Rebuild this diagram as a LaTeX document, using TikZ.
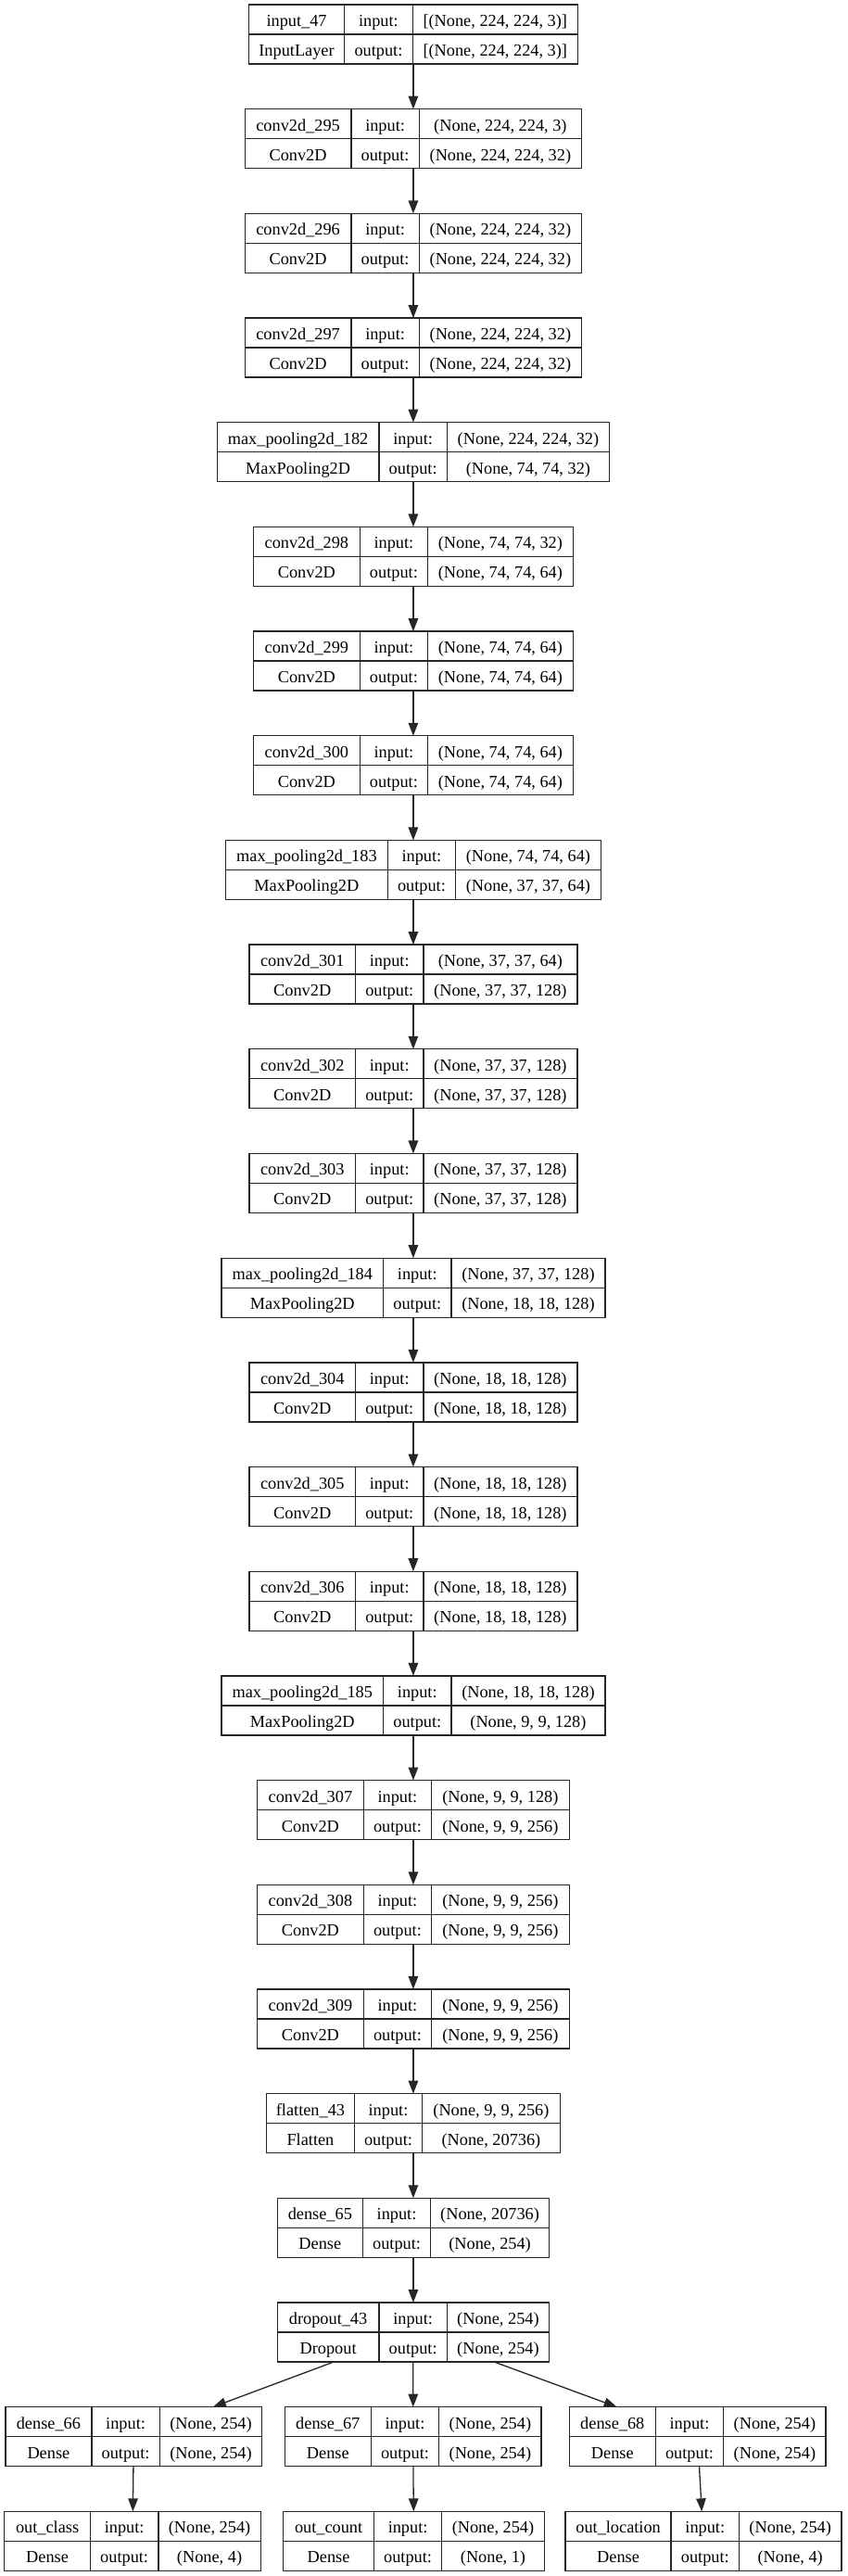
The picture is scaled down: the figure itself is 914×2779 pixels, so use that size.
\documentclass[tikz,border=0pt]{standalone}
\usepackage{fontspec}
\setmainfont{Liberation Serif}
\usetikzlibrary{arrows.meta}
\newcommand\recfont{\fontsize{18.3}{22}\selectfont}
\colorlet{edgecol}{black!85}
\tikzset{
  rec/.style={draw=edgecol, rectangle, line width=1.3pt, minimum height=64pt, inner sep=0pt, outer sep=0pt},
  recline/.style={draw=edgecol, line width=1.3pt},
  txt/.style={anchor=base, font=\recfont, inner sep=0pt, outer sep=0pt},
  arr/.style={draw=edgecol, line width=1.3pt, -{Triangle[length=14pt,width=10.5pt]}}
}
% #1 name, #2 x centre, #3 row, #4 width col1, #5 width col3, #6 layer name, #7 class, #8 input shape, #9 output shape
\newcommand\record[9]{%
  \pgfmathsetmacro\ytop{-(5+112.68*#3)}%
  \pgfmathsetmacro\ycen{\ytop-32}%
  \pgfmathsetmacro\wtot{#4+73.4+#5}%
  \node[rec, minimum width=\wtot pt] (#1) at (#2,\ycen) {};
  \draw[recline] (#1.west) -- (#1.east);
  \draw[recline] ([xshift=#4]#1.north west) -- ([xshift=#4]#1.south west);
  \draw[recline] ([xshift=#4+73.4]#1.north west) -- ([xshift=#4+73.4]#1.south west);
  \node[txt] at ([xshift=0.5*#4, yshift=-23.5]#1.north west) {#6};
  \node[txt] at ([xshift=0.5*#4, yshift=-55.5]#1.north west) {#7};
  \node[txt] at ([xshift=#4+36.7, yshift=-23.5]#1.north west) {input:};
  \node[txt] at ([xshift=#4+36.7, yshift=-55.5]#1.north west) {output:};
  \node[txt] at ([xshift=#4+73.4+0.5*#5, yshift=-23.5]#1.north west) {#8};
  \node[txt] at ([xshift=#4+73.4+0.5*#5, yshift=-55.5]#1.north west) {#9};
}
\begin{document}
\begin{tikzpicture}[x=1pt,y=1pt]
\fill[white] (0,0) rectangle (914,-2779);
\useasboundingbox (0,0) rectangle (914,-2779);
\record{n0}{445.9}{0}{103.4}{178.3}{input\_47}{InputLayer}{[(None, 224, 224, 3)]}{[(None, 224, 224, 3)]}
\record{n1}{445.9}{1}{114.6}{175.2}{conv2d\_295}{Conv2D}{(None, 224, 224, 3)}{(None, 224, 224, 32)}
\record{n2}{445.9}{2}{114.6}{175.2}{conv2d\_296}{Conv2D}{(None, 224, 224, 32)}{(None, 224, 224, 32)}
\record{n3}{445.9}{3}{114.6}{175.2}{conv2d\_297}{Conv2D}{(None, 224, 224, 32)}{(None, 224, 224, 32)}
\record{n4}{445.9}{4}{174.7}{175.2}{max\_pooling2d\_182}{MaxPooling2D}{(None, 224, 224, 32)}{(None, 74, 74, 32)}
\record{n5}{445.9}{5}{114.6}{156.6}{conv2d\_298}{Conv2D}{(None, 74, 74, 32)}{(None, 74, 74, 64)}
\record{n6}{445.9}{6}{114.6}{156.6}{conv2d\_299}{Conv2D}{(None, 74, 74, 64)}{(None, 74, 74, 64)}
\record{n7}{445.9}{7}{114.6}{156.6}{conv2d\_300}{Conv2D}{(None, 74, 74, 64)}{(None, 74, 74, 64)}
\record{n8}{445.9}{8}{174.7}{156.6}{max\_pooling2d\_183}{MaxPooling2D}{(None, 74, 74, 64)}{(None, 37, 37, 64)}
\record{n9}{445.9}{9}{114.6}{165.9}{conv2d\_301}{Conv2D}{(None, 37, 37, 64)}{(None, 37, 37, 128)}
\record{n10}{445.9}{10}{114.6}{165.9}{conv2d\_302}{Conv2D}{(None, 37, 37, 128)}{(None, 37, 37, 128)}
\record{n11}{445.9}{11}{114.6}{165.9}{conv2d\_303}{Conv2D}{(None, 37, 37, 128)}{(None, 37, 37, 128)}
\record{n12}{445.9}{12}{174.7}{165.9}{max\_pooling2d\_184}{MaxPooling2D}{(None, 37, 37, 128)}{(None, 18, 18, 128)}
\record{n13}{445.9}{13}{114.6}{165.9}{conv2d\_304}{Conv2D}{(None, 18, 18, 128)}{(None, 18, 18, 128)}
\record{n14}{445.9}{14}{114.6}{165.9}{conv2d\_305}{Conv2D}{(None, 18, 18, 128)}{(None, 18, 18, 128)}
\record{n15}{445.9}{15}{114.6}{165.9}{conv2d\_306}{Conv2D}{(None, 18, 18, 128)}{(None, 18, 18, 128)}
\record{n16}{445.9}{16}{174.7}{165.9}{max\_pooling2d\_185}{MaxPooling2D}{(None, 18, 18, 128)}{(None, 9, 9, 128)}
\record{n17}{445.9}{17}{114.6}{148.5}{conv2d\_307}{Conv2D}{(None, 9, 9, 128)}{(None, 9, 9, 256)}
\record{n18}{445.9}{18}{114.6}{148.5}{conv2d\_308}{Conv2D}{(None, 9, 9, 256)}{(None, 9, 9, 256)}
\record{n19}{445.9}{19}{114.6}{148.5}{conv2d\_309}{Conv2D}{(None, 9, 9, 256)}{(None, 9, 9, 256)}
\record{n20}{445.9}{20}{94.7}{148.5}{flatten\_43}{Flatten}{(None, 9, 9, 256)}{(None, 20736)}
\record{n21}{445.9}{21}{92}{127.7}{dense\_65}{Dense}{(None, 20736)}{(None, 254)}
\record{n22}{445.9}{22}{109.7}{110.2}{dropout\_43}{Dropout}{(None, 254)}{(None, 254)}
\record{d66}{144.3}{23}{93}{110.4}{dense\_66}{Dense}{(None, 254)}{(None, 254)}
\record{d67}{445.7}{23}{93}{110.4}{dense\_67}{Dense}{(None, 254)}{(None, 254)}
\record{d68}{752.7}{23}{93}{110.4}{dense\_68}{Dense}{(None, 254)}{(None, 254)}
\record{oc}{143}{24}{92.7}{110.4}{out\_class}{Dense}{(None, 254)}{(None, 4)}
\record{on}{446.5}{24}{97.6}{110.4}{out\_count}{Dense}{(None, 254)}{(None, 1)}
\record{ol}{759}{24}{114}{110.4}{out\_location}{Dense}{(None, 254)}{(None, 4)}
\foreach \a/\b in {n0/n1,n1/n2,n2/n3,n3/n4,n4/n5,n5/n6,n6/n7,n7/n8,n8/n9,n9/n10,n10/n11,n11/n12,n12/n13,n13/n14,n14/n15,n15/n16,n16/n17,n17/n18,n18/n19,n19/n20,n20/n21,n21/n22,n22/d66,n22/d67,n22/d68,d66/oc,d67/on,d68/ol}
  \draw[arr] (\a) -- (\b);
\end{tikzpicture}
\end{document}
